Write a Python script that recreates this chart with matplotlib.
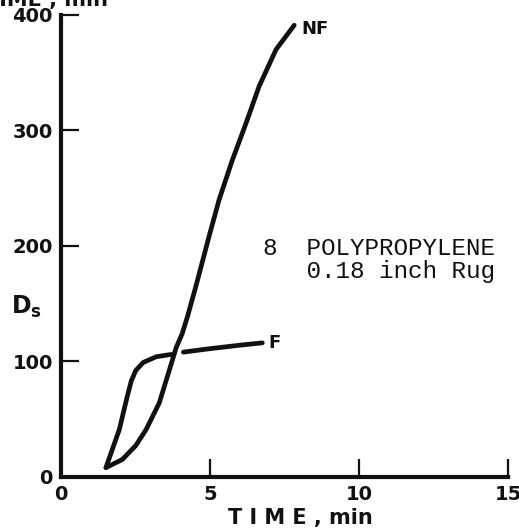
import matplotlib.pyplot as plt

# curve readings (time in min, Ds)
f_time = [1.5, 1.95, 2.21, 2.35, 2.5, 2.75, 3.19, 3.69, 4.1, 5.0, 6.0, 6.75]
f_ds = [8, 41, 69, 83, 92, 99, 104, 106, 108, 111, 114, 116]
f_gap = 8  # F line is broken where NF crosses it

nf_time = [1.5, 2.05, 2.5, 2.85, 3.29, 3.6, 3.86, 4.06, 4.24, 4.52, 4.97,
           5.3, 5.74, 6.2, 6.64, 7.21, 7.82]
nf_ds = [8, 15, 27, 41, 64, 90, 112, 124, 139, 165, 209, 240, 274, 306,
         338, 370, 391]

x_ticks = [0, 5, 10, 15]
y_ticks = [0, 100, 200, 300, 400]

fig = plt.figure(figsize=(5.19, 5.31), dpi=100)
ax = fig.add_axes([0.118, 0.102, 0.861, 0.870])

lw = 3.4
style = dict(color='#111111', lw=lw, solid_capstyle='round',
             solid_joinstyle='round')
ax.plot(f_time[:f_gap], f_ds[:f_gap], **style)
ax.plot(f_time[f_gap:], f_ds[f_gap:], **style)
ax.plot(nf_time, nf_ds, **style)

ax.set_xlim(0, 15)
ax.set_ylim(0, 400)
ax.spines['top'].set_visible(False)
ax.spines['right'].set_visible(False)
for s in ('left', 'bottom'):
    ax.spines[s].set_linewidth(3)
    ax.spines[s].set_color('#111111')

ax.set_xticks(x_ticks)
ax.set_yticks(y_ticks)
ax.tick_params(axis='both', direction='in', width=1.6, length=13,
               colors='#111111', labelsize=14, pad=6)
ax.set_xticklabels([str(t) for t in x_ticks], fontweight='bold')
ax.set_yticklabels([str(t) for t in y_ticks], fontweight='bold')

ax.set_xlabel('T I M E , min', fontsize=15, fontweight='bold', labelpad=0,
              color='#111111')
ax.xaxis.set_label_coords(0.535, -0.068)
fig.text(0.052, 0.422, r'$\mathbf{D_s}$', fontsize=17, ha='center',
         va='center', color='#111111')
# y-axis title cut off at the top of the scan
fig.text(0.09, 1.0, 'TIME , min', fontsize=15, fontweight='bold',
         ha='center', va='center', color='#111111')

ax.text(8.05, 388, 'NF', fontsize=13, fontweight='bold', va='center',
        color='#111111')
ax.text(6.95, 116, 'F', fontsize=13, fontweight='bold', va='center',
        color='#111111')

ax.text(6.78, 188, '8  POLYPROPYLENE\n   0.18 inch Rug', family='Liberation Mono',
        fontsize=17.5, va='center', ha='left', linespacing=1.0,
        color='#111111')

fig.savefig('out.png', dpi=100)
